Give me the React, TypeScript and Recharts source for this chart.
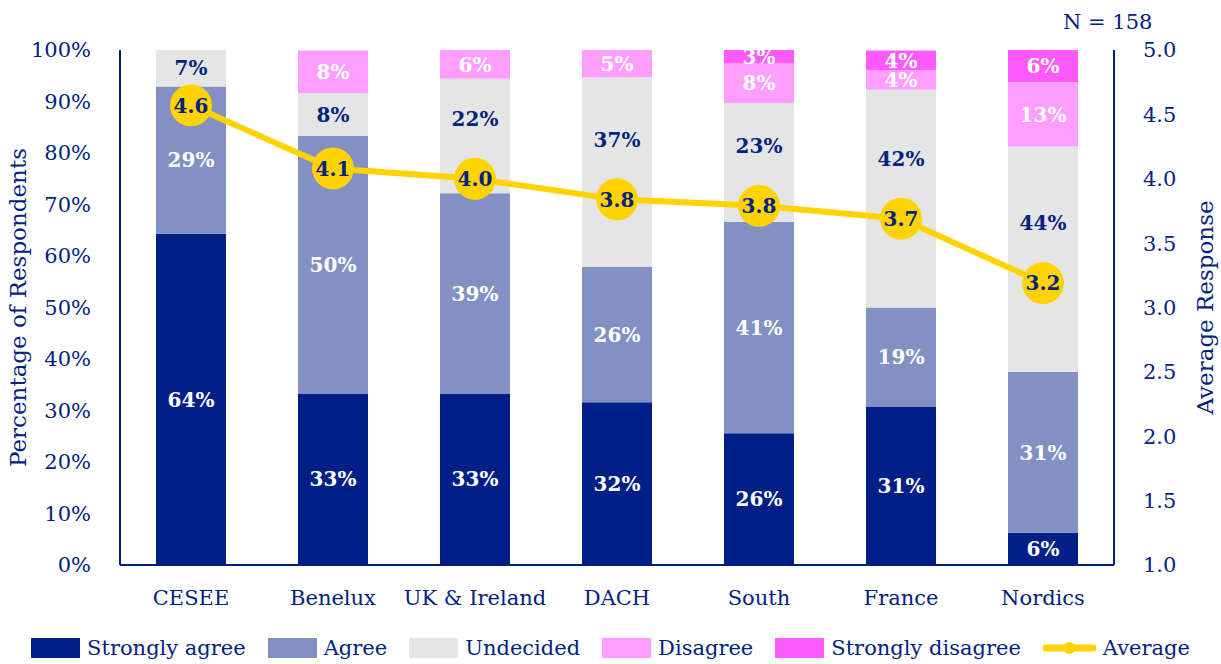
import {
  Bar,
  ComposedChart,
  LabelList,
  Legend,
  Line,
  XAxis,
  YAxis,
} from 'recharts';

const categories = ['CESEE', 'Benelux', 'UK & Ireland', 'DACH', 'South', 'France', 'Nordics'];
const stronglyAgree = [64.3, 33.3, 33.3, 31.6, 25.6, 30.8, 6.25];
const agree = [28.6, 50.0, 38.9, 26.3, 41.0, 19.2, 31.25];
const undecided = [7.1, 8.3, 22.2, 36.8, 23.1, 42.3, 43.75];
const disagree = [0, 8.3, 5.6, 5.3, 7.7, 3.8, 12.5];
const stronglyDisagree = [0, 0, 0, 0, 2.6, 3.8, 6.25];
const average = [4.57, 4.08, 4.0, 3.84, 3.79, 3.69, 3.19];

const pctTicks = [0, 10, 20, 30, 40, 50, 60, 70, 80, 90, 100];
const avgTicks = [1.0, 1.5, 2.0, 2.5, 3.0, 3.5, 4.0, 4.5, 5.0];

const NAVY = '#00237f';
const FONT = '"DejaVu Serif", serif';
const YELLOW = '#ffd300';

// plot box, used to keep bar labels clear of the average markers
const PLOT_TOP = 50;
const PLOT_H = 515;
const AVG_MIN = 1;
const AVG_MAX = 5;

const series = [
  { key: 'sa', name: 'Strongly agree', color: '#001f87', text: '#ffffff', values: stronglyAgree },
  { key: 'a', name: 'Agree', color: '#8290c3', text: '#ffffff', values: agree },
  { key: 'u', name: 'Undecided', color: '#e5e5e5', text: NAVY, values: undecided },
  { key: 'd', name: 'Disagree', color: '#ff9eff', text: '#ffffff', values: disagree },
  { key: 'sd', name: 'Strongly disagree', color: '#ff5aff', text: '#ffffff', values: stronglyDisagree },
];

const data = categories.map((name, i) => {
  const row: Record<string, string | number> = { name, avg: average[i] };
  series.forEach((s) => {
    row[s.key] = s.values[i];
  });
  return row;
});

function makeBarLabel(color: string, avoidDots: boolean) {
  return function BarLabel(props: any) {
    const { x, y, width, height, value, index } = props;
    if (!value || value <= 0) return null;
    const cx = Number(x) + Number(width) / 2;
    let cy = Number(y) + Number(height) / 2;
    if (avoidDots) {
      const dotY = PLOT_TOP + ((AVG_MAX - average[index]) / (AVG_MAX - AVG_MIN)) * PLOT_H;
      const moved = dotY - 60;
      // only nudge up when the label still fits inside its segment
      if (Math.abs(cy - dotY) < 50 && moved - 12 > Number(y)) cy = Math.min(cy, moved);
    }
    return (
      <text
        x={cx}
        y={cy}
        dy="0.36em"
        textAnchor="middle"
        fill={color}
        fontFamily={FONT}
        fontWeight="bold"
        fontSize={20}
      >
        {`${Math.round(value)}%`}
      </text>
    );
  };
}

function AvgDot(props: any) {
  const { cx, cy, value } = props;
  if (cx == null || cy == null) return null;
  return (
    <g>
      <circle cx={cx} cy={cy} r={21} fill={YELLOW} />
      <text
        x={cx}
        y={cy}
        dy="0.36em"
        textAnchor="middle"
        fill={NAVY}
        fontFamily={FONT}
        fontWeight="bold"
        fontSize={20}
      >
        {Number(value).toFixed(1)}
      </text>
    </g>
  );
}

function AxisTitle({ viewBox, value, dx }: any) {
  const x = viewBox.x + dx;
  const y = viewBox.y + viewBox.height / 2;
  return (
    <text
      x={x}
      y={y}
      transform={`rotate(-90, ${x}, ${y})`}
      textAnchor="middle"
      dominantBaseline="central"
      fill={NAVY}
      fontFamily={FONT}
      fontSize={23}
    >
      {value}
    </text>
  );
}

function ChartLegend() {
  return (
    <div
      style={{
        display: 'flex',
        justifyContent: 'center',
        alignItems: 'center',
        gap: 22,
        paddingTop: 14,
        fontFamily: FONT,
        fontSize: 21,
        color: NAVY,
      }}
    >
      {series.map((s) => (
        <div key={s.key} style={{ display: 'flex', alignItems: 'center', gap: 7 }}>
          <div style={{ width: 49, height: 20, background: s.color }} />
          <span>{s.name}</span>
        </div>
      ))}
      <div style={{ display: 'flex', alignItems: 'center', gap: 7 }}>
        <svg width={53} height={20}>
          <line x1={3} y1={10} x2={50} y2={10} stroke={YELLOW} strokeWidth={7} strokeLinecap="round" />
          <circle cx={26.5} cy={10} r={6} fill={YELLOW} />
        </svg>
        <span>Average</span>
      </div>
    </div>
  );
}

export default function App() {
  return (
    <div style={{ position: 'absolute', left: 0, top: 0, width: 1221, height: 664, background: '#fff' }}>
      <div
        style={{
          position: 'absolute',
          left: 1063,
          top: 10,
          fontFamily: FONT,
          fontSize: 21,
          color: NAVY,
          whiteSpace: 'nowrap',
        }}
      >
        N = 158
      </div>
      <ComposedChart
        width={1221}
        height={664}
        data={data}
        margin={{ top: 50, right: 0, left: 0, bottom: 0 }}
        barSize={70}
      >
        <XAxis
          dataKey="name"
          axisLine={{ stroke: NAVY, strokeWidth: 2 }}
          tickLine={false}
          tickSize={0}
          tickMargin={25}
          height={57}
          tick={{ fill: NAVY, fontFamily: FONT, fontSize: 21 }}
          interval={0}
        />
        <YAxis
          yAxisId="left"
          width={120}
          domain={[0, 100]}
          ticks={pctTicks}
          allowDataOverflow
          tickFormatter={(v) => `${v}%`}
          axisLine={{ stroke: NAVY, strokeWidth: 2 }}
          tickLine={false}
          tickSize={0}
          tickMargin={29}
          tick={{ fill: NAVY, fontFamily: FONT, fontSize: 21 }}
          label={<AxisTitle value="Percentage of Respondents" dx={18} />}
        />
        <YAxis
          yAxisId="right"
          orientation="right"
          width={107}
          domain={[AVG_MIN, AVG_MAX]}
          ticks={avgTicks}
          tickFormatter={(v) => Number(v).toFixed(1)}
          axisLine={{ stroke: NAVY, strokeWidth: 2 }}
          tickLine={false}
          tickSize={0}
          tickMargin={29}
          tick={{ fill: NAVY, fontFamily: FONT, fontSize: 21 }}
          label={<AxisTitle value="Average Response" dx={91} />}
        />
        <Legend verticalAlign="bottom" height={42} content={() => <ChartLegend />} />
        {series.map((s) => (
          <Bar
            key={s.key}
            yAxisId="left"
            dataKey={s.key}
            name={s.name}
            stackId="stack"
            fill={s.color}
            isAnimationActive={false}
          >
            <LabelList dataKey={s.key} content={makeBarLabel(s.text, s.key === 'u')} />
          </Bar>
        ))}
        <Line
          yAxisId="right"
          dataKey="avg"
          name="Average"
          type="linear"
          stroke={YELLOW}
          strokeWidth={6}
          dot={<AvgDot />}
          activeDot={false}
          isAnimationActive={false}
        />
      </ComposedChart>
    </div>
  );
}
